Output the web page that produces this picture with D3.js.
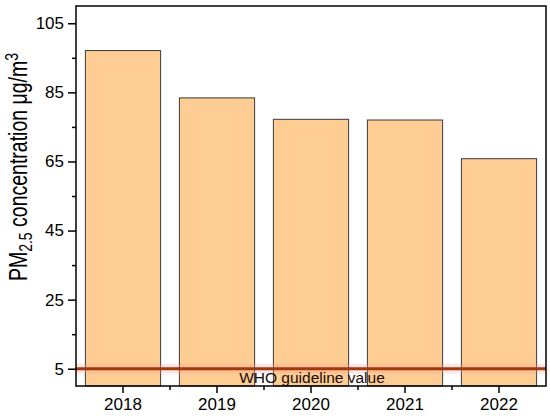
<!DOCTYPE html>
<html><head><meta charset="utf-8">
<script src="https://cdn.jsdelivr.net/npm/d3@7/dist/d3.min.js"></script>
<style>body{margin:0;background:#fff}svg{display:block}text{font-family:Arial,"Liberation Sans",sans-serif}</style>
</head><body><svg id="c" width="550" height="419"></svg>
<script>
const years = ["2018","2019","2020","2021","2022"];
const pm25 = [97.1, 83.4, 77.2, 77.0, 65.8];
const yTicks = [5, 25, 45, 65, 85, 105];
const yMinorTicks = [15, 35, 55, 75, 95];
const whoValue = 5;
const whoLabel = "WHO guideline value";

const svg = d3.select("#c");
const m = {l:76, t:6, r:546, b:386};
const x = d3.scaleBand().domain(years).range([m.l, m.r]).paddingInner(0.2).paddingOuter(0.1);
const y = d3.scaleLinear().domain([0, 110]).range([m.b, m.t]);

// bars
svg.append("g").selectAll("rect").data(years).join("rect")
  .attr("x", d => x(d)).attr("width", x.bandwidth())
  .attr("y", (d,i) => y(pm25[i])).attr("height", (d,i) => y(0) - y(pm25[i]))
  .attr("fill", "#FDCD93").attr("stroke", "#3a3a3a").attr("stroke-width", 1);

// WHO band + line
svg.append("rect").attr("x", m.l).attr("width", m.r - m.l)
  .attr("y", y(whoValue) - 5).attr("height", 10)
  .attr("fill", "#ff9a9a").attr("opacity", 0.25);
svg.append("line").attr("x1", m.l).attr("x2", m.r)
  .attr("y1", y(whoValue)).attr("y2", y(whoValue))
  .attr("stroke", "#9E3A0B").attr("stroke-width", 3);
svg.append("text").attr("x", (m.l + m.r)/2 + 1).attr("y", y(whoValue) + 14)
  .attr("text-anchor", "middle").attr("font-size", 15.5).attr("fill", "#1a0a0a").text(whoLabel);

// frame
svg.append("rect").attr("x", m.l).attr("y", m.t).attr("width", m.r - m.l).attr("height", m.b - m.t)
  .attr("fill", "none").attr("stroke", "#000").attr("stroke-width", 1.5);

// y axis
const yAx = svg.append("g").attr("transform", `translate(${m.l},0)`)
  .call(d3.axisLeft(y).tickValues(yTicks).tickSize(8).tickPadding(4).tickFormat(d3.format("d")));
yAx.select(".domain").remove();
yAx.selectAll("line").attr("stroke-width", 1.5);
yAx.selectAll("text").attr("font-size", 17).attr("fill", "#000").attr("font-family", "Arial, 'Liberation Sans', sans-serif");
const yMin = svg.append("g").attr("transform", `translate(${m.l},0)`)
  .call(d3.axisLeft(y).tickValues(yMinorTicks).tickSize(4).tickFormat(""));
yMin.select(".domain").remove();
yMin.selectAll("line").attr("stroke-width", 1.5);

// x axis
const xAx = svg.append("g").attr("transform", `translate(0,${m.b})`)
  .call(d3.axisBottom(x).tickSize(7).tickPadding(5));
xAx.select(".domain").remove();
xAx.selectAll("line").attr("stroke-width", 1.5);
xAx.selectAll("text").attr("font-size", 17).attr("fill", "#000").attr("font-family", "Arial, 'Liberation Sans', sans-serif");
// minor x ticks at band boundaries
const step = x.step();
const bounds = years.slice(1).map(d => x(d) - (step - x.bandwidth())/2);
svg.append("g").selectAll("line").data(bounds).join("line")
  .attr("x1", d => d).attr("x2", d => d).attr("y1", m.b).attr("y2", m.b + 4)
  .attr("stroke", "#000").attr("stroke-width", 1.5);

// y label
const lab = svg.append("text").attr("transform", `translate(27,167) rotate(-90) scale(1,1.3)`)
  .attr("text-anchor", "middle").attr("font-size", 19.5).attr("fill", "#000");
lab.append("tspan").text("PM");
lab.append("tspan").attr("font-size", 14).attr("dy", 4).text("2.5");
lab.append("tspan").attr("dy", -4).text(" concentration μg/m");
lab.append("tspan").attr("font-size", 14).attr("dy", -7).text("3");
</script></body></html>
